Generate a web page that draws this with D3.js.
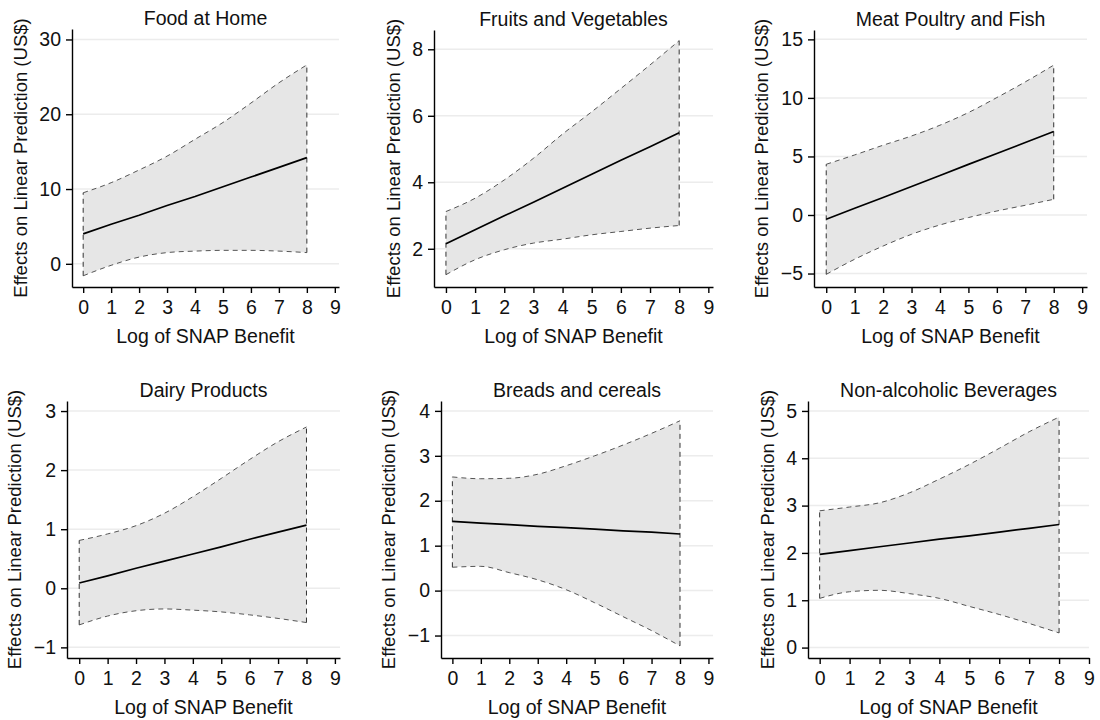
<!DOCTYPE html>
<html>
<head>
<meta charset="utf-8">
<style>
  body { margin: 0; background: #fff; }
  svg text { font-family: "Liberation Sans", Arial, sans-serif; fill: #111; }
</style>
</head>
<body>
<svg id="chart" width="1100" height="720"></svg>
<script src="https://cdn.jsdelivr.net/npm/d3@7"></script>
<script>
// x positions (log of SNAP benefit)
const xPoints = [0, 1, 2, 3, 4, 5, 6, 7, 8]
const xTicks = [0, 1, 2, 3, 4, 5, 6, 7, 8, 9]

const titles = ["Food at Home", "Fruits and Vegetables", "Meat Poultry and Fish",
                "Dairy Products", "Breads and cereals", "Non-alcoholic Beverages"]

// fitted values and 95% bounds
const foodHomeFit   = [4.0, 5.3, 6.5, 7.8, 9.0, 10.3, 11.6, 12.9, 14.2]
const foodHomeUpper = [9.5, 10.85, 12.55, 14.4, 16.65, 18.9, 21.5, 24.2, 26.6]
const foodHomeLower = [-1.6, -0.2, 0.9, 1.5, 1.7, 1.8, 1.8, 1.7, 1.5]

const fruitVegFit   = [2.15, 2.57, 2.99, 3.4, 3.82, 4.24, 4.66, 5.07, 5.49]
const fruitVegUpper = [3.12, 3.52, 4.07, 4.72, 5.45, 6.12, 6.82, 7.53, 8.26]
const fruitVegLower = [1.22, 1.67, 1.97, 2.17, 2.29, 2.42, 2.52, 2.62, 2.7]

const meatFit   = [-0.37, 0.57, 1.5, 2.44, 3.38, 4.32, 5.25, 6.19, 7.13]
const meatUpper = [4.33, 5.13, 5.96, 6.75, 7.67, 8.75, 10.03, 11.37, 12.8]
const meatLower = [-5.07, -3.78, -2.65, -1.65, -0.85, -0.22, 0.34, 0.83, 1.34]

const dairyFit   = [0.09, 0.21, 0.34, 0.46, 0.58, 0.7, 0.83, 0.95, 1.07]
const dairyUpper = [0.81, 0.92, 1.06, 1.27, 1.55, 1.86, 2.18, 2.48, 2.73]
const dairyLower = [-0.62, -0.47, -0.38, -0.35, -0.37, -0.4, -0.45, -0.51, -0.58]

const breadFit   = [1.54, 1.5, 1.47, 1.43, 1.4, 1.37, 1.33, 1.3, 1.26]
const breadUpper = [2.53, 2.49, 2.5, 2.59, 2.78, 3.0, 3.24, 3.5, 3.78]
const breadLower = [0.52, 0.54, 0.4, 0.24, 0.02, -0.27, -0.58, -0.89, -1.23]

const bevFit   = [1.97, 2.05, 2.13, 2.21, 2.29, 2.36, 2.44, 2.52, 2.6]
const bevUpper = [2.89, 2.97, 3.06, 3.27, 3.56, 3.87, 4.21, 4.56, 4.87]
const bevLower = [1.04, 1.18, 1.21, 1.14, 1.04, 0.87, 0.7, 0.51, 0.31]

// axis ranges and ticks per panel
const yDomains = [[-3.1, 31.4], [0.85, 8.58], [-6.15, 15.8], [-1.18, 3.17], [-1.5, 4.22], [-0.22, 5.21]]
const yTicks = [[0, 10, 20, 30], [2, 4, 6, 8], [-5, 0, 5, 10, 15], [-1, 0, 1, 2, 3], [-1, 0, 1, 2, 3, 4], [0, 1, 2, 3, 4, 5]]
const xDomains = [[-0.4, 9.15], [-0.41, 9.16], [-0.43, 9.17], [-0.43, 9.18], [-0.4, 9.16], [-0.39, 9]]

const fits = [foodHomeFit, fruitVegFit, meatFit, dairyFit, breadFit, bevFit]
const uppers = [foodHomeUpper, fruitVegUpper, meatUpper, dairyUpper, breadUpper, bevUpper]
const lowers = [foodHomeLower, fruitVegLower, meatLower, dairyLower, breadLower, bevLower]

// plot boxes (layout)
const boxes = [
  {left: 72, right: 339, top: 29, bottom: 287},
  {left: 434, right: 713, top: 30, bottom: 287},
  {left: 814, right: 1087, top: 30, bottom: 287},
  {left: 67, right: 340, top: 401, bottom: 658},
  {left: 441, right: 713, top: 401, bottom: 658},
  {left: 808, right: 1089, top: 401, bottom: 658}
]

const FONT = 19.5
const svg = d3.select("#chart")

boxes.forEach((b, i) => {
  let x = d3.scaleLinear().domain(xDomains[i]).range([b.left, b.right])
  let y = d3.scaleLinear().domain(yDomains[i]).range([b.bottom, b.top])
  let g = svg.append("g")

  // light gridlines
  g.selectAll(".grid")
    .data(yTicks[i])
    .enter()
    .append("line")
    .attr("x1", b.left)
    .attr("x2", b.right)
    .attr("y1", d => y(d))
    .attr("y2", d => y(d))
    .attr("stroke", "#ececec")
    .attr("stroke-width", 1.5)

  let rows = xPoints.map((xv, k) => ({x: xv, fit: fits[i][k], lo: lowers[i][k], hi: uppers[i][k]}))

  // confidence band
  let area = d3.area()
    .x(d => x(d.x))
    .y0(d => y(d.lo))
    .y1(d => y(d.hi))
    .curve(d3.curveMonotoneX)
  g.append("path")
    .datum(rows)
    .attr("d", area)
    .attr("fill", "#e6e6e6")

  // dashed outline of the band
  let upperLine = d3.line().x(d => x(d.x)).y(d => y(d.hi)).curve(d3.curveMonotoneX)
  let lowerLine = d3.line().x(d => x(d.x)).y(d => y(d.lo)).curve(d3.curveMonotoneX)
  g.append("path").datum(rows).attr("d", upperLine)
    .attr("fill", "none").attr("stroke", "#555").attr("stroke-width", 1).attr("stroke-dasharray", "5,4")
  g.append("path").datum(rows).attr("d", lowerLine)
    .attr("fill", "none").attr("stroke", "#555").attr("stroke-width", 1).attr("stroke-dasharray", "5,4")
  let ends = [rows[0], rows[rows.length - 1]]
  g.selectAll(".edge")
    .data(ends)
    .enter()
    .append("line")
    .attr("x1", d => x(d.x))
    .attr("x2", d => x(d.x))
    .attr("y1", d => y(d.lo))
    .attr("y2", d => y(d.hi))
    .attr("stroke", "#333")
    .attr("stroke-width", 1)
    .attr("stroke-dasharray", "5,4")

  // fitted line
  let fitLine = d3.line().x(d => x(d.x)).y(d => y(d.fit))
  g.append("path").datum(rows).attr("d", fitLine)
    .attr("fill", "none").attr("stroke", "#000").attr("stroke-width", 1.7)

  // axes
  let xAxis = d3.axisBottom(x).tickValues(xTicks).tickFormat(d3.format("d"))
    .tickSize(6).tickSizeOuter(0).tickPadding(7)
  let xg = g.append("g").attr("transform", `translate(0,${b.bottom})`).call(xAxis)
  let yAxis = d3.axisLeft(y).tickValues(yTicks[i]).tickFormat(d3.format("d"))
    .tickSize(6).tickSizeOuter(0).tickPadding(5)
  let yg = g.append("g").attr("transform", `translate(${b.left},0)`).call(yAxis)

  ;[xg, yg].forEach(ax => {
    ax.select(".domain").attr("stroke", "#000").attr("stroke-width", 1.4)
    ax.selectAll(".tick line").attr("stroke", "#000").attr("stroke-width", 1.4)
    ax.selectAll(".tick text").attr("font-size", FONT).attr("fill", "#111")
      .attr("font-family", '"Liberation Sans", Arial, sans-serif')
  })

  // title
  g.append("text")
    .attr("x", (b.left + b.right) / 2)
    .attr("y", b.top - 4)
    .attr("text-anchor", "middle")
    .attr("font-size", FONT)
    .text(titles[i])

  // x label
  g.append("text")
    .attr("x", (b.left + b.right) / 2)
    .attr("y", b.bottom + 56)
    .attr("text-anchor", "middle")
    .attr("font-size", FONT)
    .text("Log of SNAP Benefit")

  // y label, placed left of the tick labels
  let labelLeft = yg.node().getBBox().x + b.left
  let cy = (b.top + b.bottom) / 2
  let lx = labelLeft - 19
  g.append("text")
    .attr("transform", `translate(${lx},${cy}) rotate(-90)`)
    .attr("text-anchor", "middle")
    .attr("dy", "0.35em")
    .attr("font-size", 18.5)
    .text("Effects on Linear Prediction (US$)")
})
</script>
</body>
</html>
